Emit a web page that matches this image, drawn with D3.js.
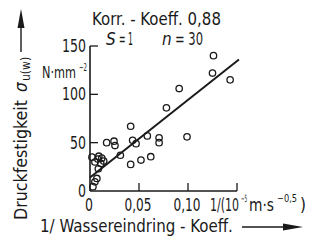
<!DOCTYPE html>
<html><head><meta charset="utf-8">
<script src="https://cdn.jsdelivr.net/npm/d3@7"></script>
<style>
html,body{margin:0;padding:0;background:#fff;}
svg text{font-family:"Liberation Sans Narrow","DejaVu Sans Condensed",sans-serif;fill:#1a1a1a;}
</style></head><body>
<svg id="c" width="312" height="246"></svg>
<script>
const xVals = [0.126,0.125,0.143,0.091,0.078,0.0415,0.017,0.0245,0.0255,0.0435,0.047,0.0585,0.0705,0.0705,0.031,0.0415,0.052,0.062,0.099,0.002,0.008,0.012,0.005,0.011,0.0085,0.007,0.005,0.003,0.014,0.009];
const yVals = [140,122,115,106,86,67,50,51.5,47,52.5,49,57,55,50,37,27.5,32,35.5,56,35,33,34,30,28.5,23,13,9.5,4.5,31,36];
const fitX = [0,0.152];
const fitY = [14,136];
const yTicks = [0,50,100,150];
const yTickLabels = ["0","50","100","150"];
const xTicks = [0.05,0.10,0.15];
const xTickLabels = ["0","0,05","0,10"];
const xTickLabelVals = [0,0.05,0.10];

const svg = d3.select("#c");
const x = d3.scaleLinear().domain([0,0.15]).range([90,237]);
const y = d3.scaleLinear().domain([0,150]).range([191,46]);
const ink = "#1a1a1a";

// text placed at (xp,yp), squeezed horizontally to width len; anchor: start|middle|end; rot: rotate -90
function txt(xp, yp, size, s, len, opts) {
  opts = opts || {};
  const t = svg.append("text").attr("font-size",size).text(s);
  if (opts.italic) t.attr("font-style","italic");
  let k = 1;
  const w = t.node().getComputedTextLength();
  if (len) k = len / w;
  const anchor = opts.anchor || "start";
  const off = anchor === "start" ? 0 : anchor === "middle" ? -w/2 : -w;
  const rot = opts.rot ? " rotate(-90)" : "";
  t.attr("x", off).attr("y", 0)
   .attr("transform", `translate(${xp},${yp})${rot} scale(${k},1)`);
  return t;
}

// axes lines
svg.append("line").attr("x1",x(0)).attr("x2",x(0)).attr("y1",y(0)).attr("y2",y(150)).attr("stroke",ink).attr("stroke-width",1.6);
svg.append("line").attr("x1",x(0)).attr("x2",x(0.15)).attr("y1",y(0)).attr("y2",y(0)).attr("stroke",ink).attr("stroke-width",1.6);
svg.selectAll(".yt").data(yTicks.filter(d=>d>0)).enter().append("line")
  .attr("x1",x(0)).attr("x2",x(0)+8).attr("y1",d=>y(d)).attr("y2",d=>y(d)).attr("stroke",ink).attr("stroke-width",1.3);
svg.selectAll(".xt").data(xTicks).enter().append("line")
  .attr("x1",d=>x(d)).attr("x2",d=>x(d)).attr("y1",y(0)).attr("y2",y(0)-8).attr("stroke",ink).attr("stroke-width",1.3);

// y tick labels
yTicks.forEach((d,i)=> txt(86, y(d)+6, 17, yTickLabels[i], 8*yTickLabels[i].length, {anchor:"end"}));
// x tick labels
xTickLabelVals.forEach((d,i)=> txt(x(d)-1, 211, 17, xTickLabels[i], xTickLabels[i].length>1?27:8, {anchor:"middle"}));

// y unit
txt(42,78,15,"N·mm",34);
txt(79,71,10,"−2",8);
// x unit
txt(210,211,17,"1/(10",29);
txt(241,202,10,"−5",6);
txt(249,211,17,"m·s",25);
txt(277,202,10,"−0,5",20);
txt(300,211,17,")",6);

// header
txt(92,25,17,"Korr. - Koeff. 0,88",129);
txt(106,45,17,"S",null,{italic:true});
txt(119,45,17,"= 1",14);
txt(162,45,17,"n",null,{italic:true});
txt(175,45,17,"= 30",28);

// x title + arrow
txt(40,232,17,"1/ Wassereindring - Koeff.",193);
svg.append("line").attr("x1",242).attr("x2",290).attr("y1",227).attr("y2",227).attr("stroke",ink).attr("stroke-width",1.4);
svg.append("path").attr("d","M283,223.5 L303,227 L283,230.5 Z").attr("fill",ink);

// y title + arrow
txt(27,220,17,"Druckfestigkeit",120,{rot:true});
txt(27,92,17,"σ",null,{rot:true,italic:true});
txt(30,81,12,"u(w)",null,{rot:true});
svg.append("line").attr("x1",21).attr("x2",21).attr("y1",52).attr("y2",20).attr("stroke",ink).attr("stroke-width",1.4);
svg.append("path").attr("d","M17.5,28 L21,9 L24.5,28 Z").attr("fill",ink);

// fit line
svg.append("line").attr("x1",x(fitX[0])).attr("x2",x(fitX[1])).attr("y1",y(fitY[0])).attr("y2",y(fitY[1]))
  .attr("stroke",ink).attr("stroke-width",2);

// points
svg.selectAll(".p").data(xVals).enter().append("circle")
  .attr("cx",d=>x(d)).attr("cy",(d,i)=>y(yVals[i])).attr("r",3.2)
  .attr("fill","none").attr("stroke",ink).attr("stroke-width",1.3);
</script></body></html>
